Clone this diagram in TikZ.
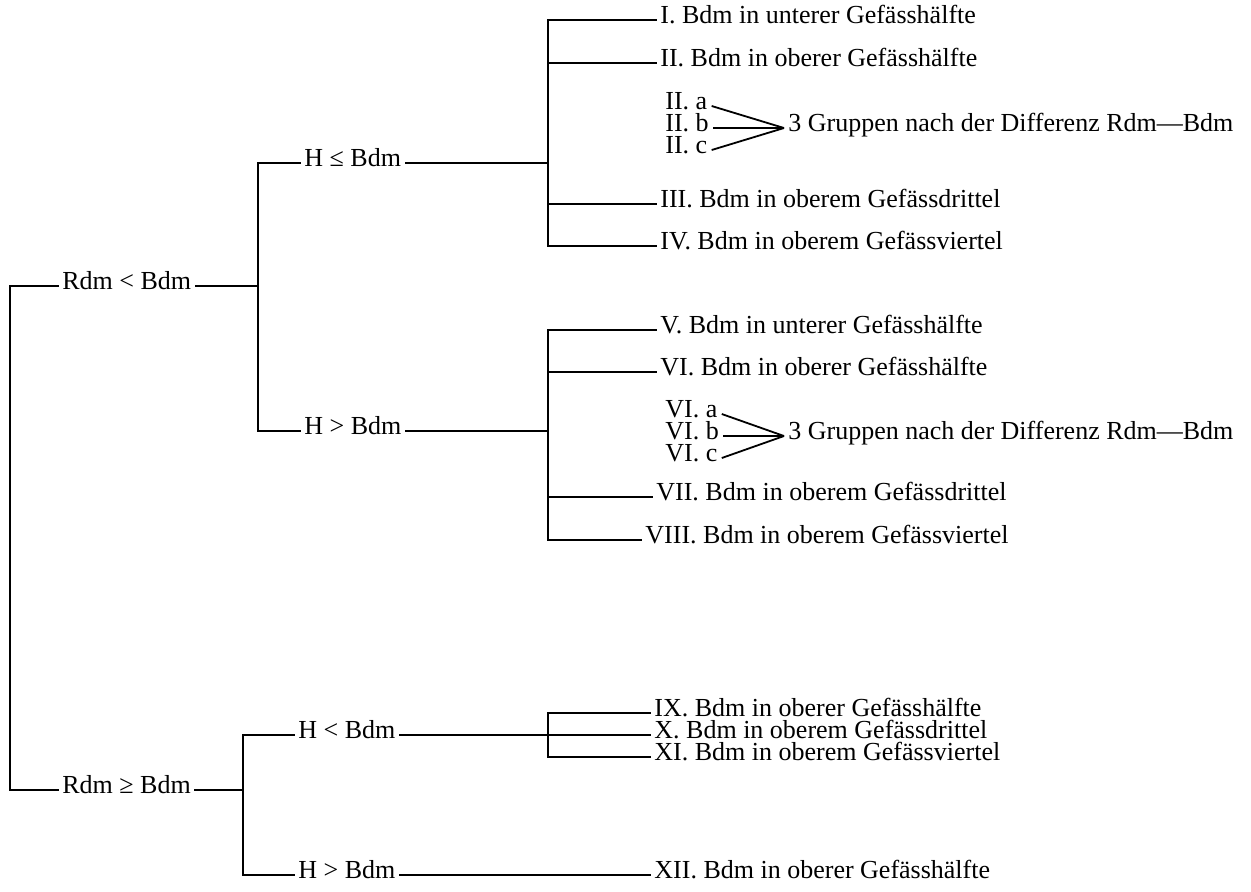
\documentclass[tikz,border=0pt]{standalone}
\usepackage{fontspec}
\setmainfont{Liberation Serif}
\usetikzlibrary{positioning}
\tikzset{
  lbl/.style={inner xsep=2pt,inner ysep=0pt,font=\fontsize{13}{15}\selectfont,
              text height=0.55em,text depth=0.25em},
  leaf/.style={lbl,anchor=west},
  br/.style={line width=0.9pt,draw=black,line cap=rect},
  conv/.style={line width=0.9pt,draw=black}
}
\begin{document}
\begin{tikzpicture}[x=0.5pt,y=-0.5pt]
  \useasboundingbox (0,0) rectangle (1251,891);
  % trunks
  \coordinate (t0) at (10,0);
  \coordinate (t1) at (258,0);
  \coordinate (t2) at (548,0);
  \coordinate (t3) at (243,0);
  % first level
  \node[leaf] (rlt) at (58,286) {Rdm < Bdm};
  \node[leaf] (rge) at (58,790) {Rdm ≥ Bdm};
  % second level
  \node[leaf] (hle) at (300,163) {H ≤ Bdm};
  \node[leaf] (hgt) at (300,431) {H > Bdm};
  \node[leaf] (hlt) at (294,735) {H < Bdm};
  \node[leaf] (hgb) at (294,875) {H > Bdm};
  % leaves, H <= Bdm
  \node[leaf] (k1) at (656,20) {I. Bdm in unterer Gefässhälfte};
  \node[leaf] (k2) at (656,63) {II. Bdm in oberer Gefässhälfte};
  \node[leaf] (k2a) at (661,106) {II. a};
  \node[leaf] (k2b) at (661,128) {II. b};
  \node[leaf] (k2c) at (661,150) {II. c};
  \node[leaf] (g1) at (784,128) {3 Gruppen nach der Differenz Rdm—Bdm};
  \node[leaf] (k3) at (656,204) {III. Bdm in oberem Gefässdrittel};
  \node[leaf] (k4) at (656,246) {IV. Bdm in oberem Gefässviertel};
  % leaves, H > Bdm
  \node[leaf] (k5) at (656,330) {V. Bdm in unterer Gefässhälfte};
  \node[leaf] (k6) at (656,372) {VI. Bdm in oberer Gefässhälfte};
  \node[leaf] (k6a) at (661,414) {VI. a};
  \node[leaf] (k6b) at (661,436) {VI. b};
  \node[leaf] (k6c) at (661,458) {VI. c};
  \node[leaf] (g2) at (784,436) {3 Gruppen nach der Differenz Rdm—Bdm};
  \node[leaf] (k7) at (652,497) {VII. Bdm in oberem Gefässdrittel};
  \node[leaf] (k8) at (641,540) {VIII. Bdm in oberem Gefässviertel};
  % leaves, Rdm >= Bdm
  \node[leaf] (k9) at (650,713) {IX. Bdm in oberer Gefässhälfte};
  \node[leaf] (k10) at (650,735) {X. Bdm in oberem Gefässdrittel};
  \node[leaf] (k11) at (650,757) {XI. Bdm in oberem Gefässviertel};
  \node[leaf] (k12) at (650,875) {XII. Bdm in oberer Gefässhälfte};
  % connectors
  \draw[br] (rlt.west) -- (rlt.west -| t0) -- (rge.west -| t0) -- (rge.west);
  \draw[br] (rlt.east) -- (rlt.east -| t1);
  \draw[br] (hle.west) -- (hle.west -| t1) -- (hgt.west -| t1) -- (hgt.west);
  \draw[br] (hle.east) -- (hle.east -| t2);
  \draw[br] (k1.west) -- (k1.west -| t2) -- (k4.west -| t2) -- (k4.west);
  \draw[br] (k2.west) -- (k2.west -| t2);
  \draw[br] (k3.west) -- (k3.west -| t2);
  \draw[conv] (k2a.east) -- (g1.west);
  \draw[conv] (k2b.east) -- (g1.west);
  \draw[conv] (k2c.east) -- (g1.west);
  \draw[br] (hgt.east) -- (hgt.east -| t2);
  \draw[br] (k5.west) -- (k5.west -| t2) -- (k8.west -| t2) -- (k8.west);
  \draw[br] (k6.west) -- (k6.west -| t2);
  \draw[br] (k7.west) -- (k7.west -| t2);
  \draw[conv] (k6a.east) -- (g2.west);
  \draw[conv] (k6b.east) -- (g2.west);
  \draw[conv] (k6c.east) -- (g2.west);
  \draw[br] (rge.east) -- (rge.east -| t3);
  \draw[br] (hlt.west) -- (hlt.west -| t3) -- (hgb.west -| t3) -- (hgb.west);
  \draw[br] (hlt.east) -- (k10.west);
  \draw[br] (k9.west) -- (k9.west -| t2) -- (k11.west -| t2) -- (k11.west);
  \draw[br] (hgb.east) -- (k12.west);
\end{tikzpicture}
\end{document}
